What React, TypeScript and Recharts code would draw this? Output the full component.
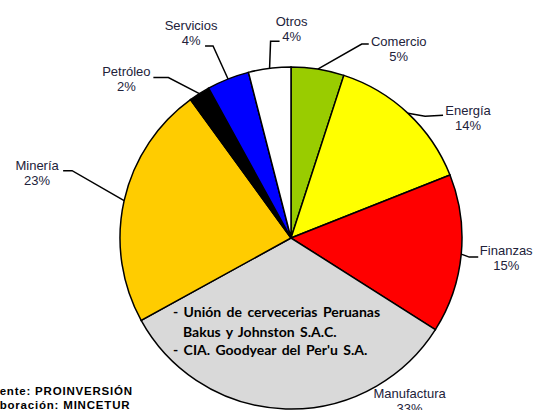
import React from 'react';
import { PieChart, Pie, Cell } from 'recharts';

const SECTORS = ['Comercio', 'Energía', 'Finanzas', 'Manufactura', 'Minería', 'Petróleo', 'Servicios', 'Otros'];
const SHARES = [5, 14, 15, 33, 23, 2, 4, 4];
const COLORS = ['#99cc00', '#ffff00', '#ff0000', '#d9d9d9', '#ffcc00', '#000000', '#0000ff', '#ffffff'];

const COMPANIES = ['- Unión de cervecerias Peruanas', 'Bakus y Johnston S.A.C.', "- CIA. Goodyear  del Per'u S.A."];
const SOURCE_LINES = ['Fuente: PROINVERSIÓN', 'Elaboración: MINCETUR'];

const data = SECTORS.map((name, i) => ({ name, value: SHARES[i] }));

// label placement, offsets from the point where the slice's mid-angle meets the rim
type Layout = { line?: number[][]; text: number[] };
const LABEL_LAYOUT: Record<string, Layout> = {
  Comercio: { line: [[44, -25], [51, -25]], text: [81, -23] },
  'Energía': { line: [[17, 3], [35, 2]], text: [60, 2] },
  Finanzas: { line: [[8, 3], [17, 3]], text: [45, 1] },
  Manufactura: { text: [124, -11] },
  'Minería': { line: [[-52, -30], [-61, -30]], text: [-87, -31] },
  'Petróleo': { line: [[-31, -16], [-46, -16]], text: [-73, -18] },
  Servicios: { line: [[-15, -33], [-23, -33]], text: [-37, -49] },
  Otros: { line: [[1, -27], [10, -27]], text: [22, -42] },
};

const RAD = Math.PI / 180;
const LABEL_FONT = '"Liberation Sans", Arial, sans-serif';

const renderLabel = (props: any) => {
  const { cx, cy, midAngle, outerRadius, name, value } = props;
  const ax = cx + outerRadius * Math.cos(-midAngle * RAD);
  const ay = cy + outerRadius * Math.sin(-midAngle * RAD);
  const lay = LABEL_LAYOUT[name];
  if (!lay) return null;
  const pts = lay.line ? [[ax, ay], ...lay.line.map(([dx, dy]) => [ax + dx, ay + dy])] : null;
  const tx = ax + lay.text[0];
  const ty = ay + lay.text[1];
  return (
    <g key={`lbl-${name}`}>
      {pts && (
        <polyline points={pts.map((p) => p.join(',')).join(' ')} fill="none" stroke="#000" strokeWidth={1.5} />
      )}
      <text x={tx} y={ty} textAnchor="middle" fontFamily={LABEL_FONT} fontSize={13} fill="#22223a">
        <tspan x={tx}>{name}</tspan>
        <tspan x={tx} dy={15}>{value}%</tspan>
      </text>
    </g>
  );
};

const App = () => {
  return (
    <div style={{ position: 'absolute', left: 0, top: 0, width: 534, height: 410, background: '#fff', overflow: 'hidden' }}>
      <PieChart width={534} height={410} margin={{ top: 0, right: 0, bottom: 0, left: 0 }}>
        <Pie
          data={data}
          dataKey="value"
          nameKey="name"
          cx={291}
          cy={238}
          outerRadius={171}
          startAngle={90}
          endAngle={-270}
          stroke="#000"
          strokeWidth={1.5}
          label={renderLabel}
          labelLine={false}
          isAnimationActive={false}
        >
          {data.map((entry, index) => (
            <Cell key={`cell-${entry.name}`} fill={COLORS[index % COLORS.length]} />
          ))}
        </Pie>
      </PieChart>
      <svg width={534} height={410} style={{ position: 'absolute', left: 0, top: 0, pointerEvents: 'none' }}>
        {COMPANIES.map((line, i) => (
          <text
            key={line}
            x={i === 1 ? 183 : 173}
            y={[317, 337, 355][i]}
            fontFamily="Lato, 'Open Sans', sans-serif"
            fontWeight="bold"
            fontSize={14}
            wordSpacing={2}
            fill="#000"
          >
            {line}
          </text>
        ))}
        {SOURCE_LINES.map((line, i) => (
          <text
            key={line}
            x={i === 0 ? -16 : -20}
            y={395 + i * 14}
            fontFamily={LABEL_FONT}
            fontWeight="bold"
            fontSize={11.5}
            letterSpacing={0.8}
            fill="#000"
          >
            {line}
          </text>
        ))}
      </svg>
    </div>
  );
};

export default App;
